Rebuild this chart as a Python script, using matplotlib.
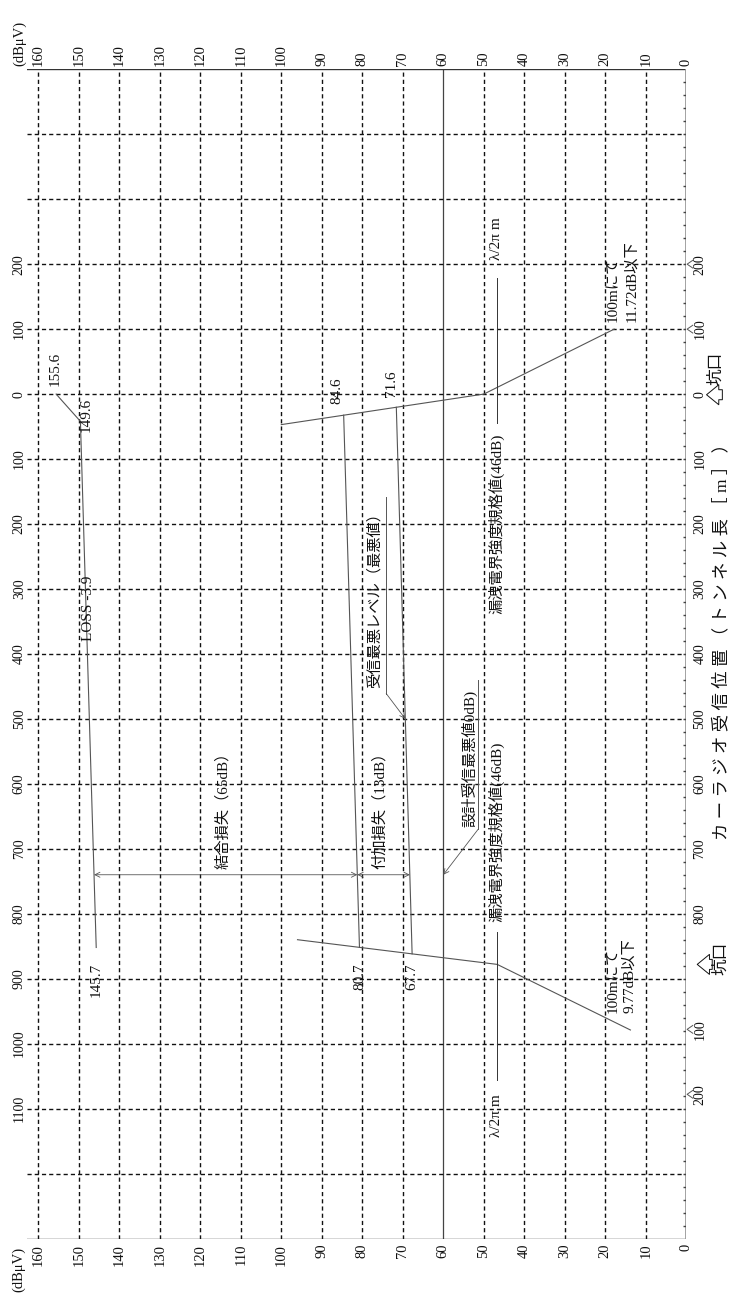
import numpy as np
import matplotlib
matplotlib.use('Agg')
import matplotlib.pyplot as plt

plt.rcParams['font.family'] = ['Liberation Serif', 'Noto Sans CJK JP', 'DejaVu Sans']

# ---------------- data ----------------
db_ticks = [160, 150, 140, 130, 120, 110, 100, 90, 80, 70, 60, 50, 40, 30, 20, 10, 0]
grid_pos = list(range(-400, 1300, 100))           # horizontal grid lines (m)
left_label_pos = [-200, -100, 0, 100, 200, 300, 400, 500, 600, 700, 800, 900, 1000, 1100]
left_label_txt = ['200', '100', '0', '100', '200', '300', '400', '500', '600', '700',
                  '800', '900', '1000', '1100']
right_label_pos = [-200, -100, 0, 100, 200, 300, 400, 500, 600, 700, 800, 978, 1078]
right_label_txt = ['200', '100', '0', '100', '200', '300', '400', '500', '600', '700',
                   '800', '100', '200']
entrance_m = 0
exit_m = 878
design_min_db = 60

upper_leak_db = [100, 50, 17.8]
upper_leak_m = [47, 0, -100]
lower_leak_db = [96.0, 46.7, 13.8]
lower_leak_m = [840, 878, 979]

lineA_db = [84.6, 80.7]
lineA_m = [32.5, 851.8]
lineB_db = [71.6, 67.7]
lineB_m = [20.3, 861.8]
lineC_db = [155.6, 149.6, 145.7]
lineC_m = [0, 42, 852]

dim_m = 740
worst_point_m = 500

# ---------------- figure ----------------
W, H = 735, 1308
fig = plt.figure(figsize=(W / 100, H / 100), dpi=100)
fig.patch.set_facecolor('white')
left_px, right_px, top_px, bot_px = 26.5, 686.3, 69.3, 1238.5
ax = fig.add_axes([left_px / W, 1 - bot_px / H, (right_px - left_px) / W, (bot_px - top_px) / H])
px_per_db = (right_px - 38.3) / 160.0
ax.set_xlim((right_px - left_px) / px_per_db, 0)
ax.set_ylim(1300, -500)
ax.axis('off')

ink = '#111111'
dline = '#555555'
TXT = 11
TICK = 10.5
R = 90

# grid
for d in db_ticks:
    if d == 0:
        continue
    if d == design_min_db:
        ax.axvline(d, color='#444444', lw=0.9)
    else:
        ln = ax.axvline(d, color=ink, lw=1.0)
        ln.set_dashes((3, 2.2))
for p in grid_pos:
    ln = ax.axhline(p, color=ink, lw=1.0)
    ln.set_dashes((3, 2.2))

# frame
ax.axhline(-500, color='#333333', lw=1.0)
ax.axhline(1300, color='#333333', lw=1.0)
ax.axvline(0, color='#999999', lw=2.0)
minor = np.arange(-480, 1300, 20)
ax.hlines(minor, 0, 0.8, color='#444444', lw=1.0)

# tick labels (dB)
for d in db_ticks:
    ax.text(d, -505, str(d), rotation=R, ha='center', va='bottom', fontsize=TICK, color=ink, clip_on=False)
    ax.text(d, 1308, str(d), rotation=R, ha='center', va='top', fontsize=TICK, color=ink, clip_on=False)
ax.text(164.5, -505, '(dBμV)', rotation=R, ha='center', va='bottom', fontsize=TICK, color=ink, clip_on=False)
ax.text(164.8, 1313, '(dBμV)', rotation=R, ha='center', va='top', fontsize=TICK, color=ink, clip_on=False)

# position labels
for p, t in zip(left_label_pos, left_label_txt):
    ax.text(164.7, p, t, rotation=R, ha='center', va='center', fontsize=10, color=ink, clip_on=False)
for p, t in zip(right_label_pos, right_label_txt):
    ax.text(-3.4, p, t, rotation=R, ha='center', va='center', fontsize=10, color=ink, clip_on=False)
for p in [entrance_m - 100, entrance_m - 200, exit_m + 100, exit_m + 200]:
    ax.plot([-1.6, -0.2, -1.6], [p - 6, p, p + 6], color='#555555', lw=0.7, clip_on=False)

ax.text(-8.7, 375, 'カ ー ラ ジ オ 受 信 位 置 （ ト ン ネ ル 長 ［ m ］ ）', rotation=R,
        ha='center', va='center', fontsize=12.5, color=ink, clip_on=False)

# portal markers (outline arrows pointing toward the chart)
portal_arrow = dict(arrowstyle='simple,head_length=0.55,head_width=0.9,tail_width=0.45',
                    fc='white', ec=ink, lw=0.7, shrinkA=0, shrinkB=0, mutation_scale=16)
ax.annotate('', xy=(-5.0, entrance_m + 1), xytext=(-8.9, entrance_m + 1), arrowprops=portal_arrow,
            annotation_clip=False)
ax.text(-7.4, -14, '坑口', rotation=R, ha='center', va='bottom', fontsize=12, color=ink, clip_on=False)
ax.annotate('', xy=(-2.7, exit_m), xytext=(-6.4, exit_m), arrowprops=portal_arrow,
            annotation_clip=False)
ax.text(-8.6, exit_m - 10, '坑口', rotation=R, ha='center', va='center', fontsize=12, color=ink, clip_on=False)

# data lines
ax.plot(upper_leak_db, upper_leak_m, color=dline, lw=0.8)
ax.plot(lower_leak_db, lower_leak_m, color=dline, lw=0.8)
ax.plot(lineA_db, lineA_m, color=dline, lw=0.8)
ax.plot(lineB_db, lineB_m, color=dline, lw=0.8)
ax.plot(lineC_db, lineC_m, color=dline, lw=0.8)

# value labels
ax.text(155.9, -12, f'{lineC_db[0]}', rotation=R, ha='center', va='bottom', fontsize=TXT, color=ink)
ax.text(148.2, 58, f'{lineC_db[1]}', rotation=R, ha='center', va='bottom', fontsize=TXT, color=ink)
ax.text(86.2, 15, f'{lineA_db[0]}', rotation=R, ha='center', va='bottom', fontsize=TXT, color=ink)
ax.text(72.7, 4.5, f'{lineB_db[0]}', rotation=R, ha='center', va='bottom', fontsize=TXT, color=ink)
for dd, mm in [(lineC_db[-1], lineC_m[-1]), (lineA_db[-1], lineA_m[-1]), (lineB_db[-1], lineB_m[-1])]:
    ax.text(dd, 876, f'{dd}', rotation=R, ha='center', va='top', fontsize=TXT, color=ink)
ax.text(147.7, 330, 'LOSS -3.9', rotation=R, ha='center', va='center', fontsize=TXT, color=ink)

# dimension arrows
xC = np.interp(dim_m, lineC_m, lineC_db)
xA = np.interp(dim_m, lineA_m, lineA_db)
xB = np.interp(dim_m, lineB_m, lineB_db)
arw = dict(arrowstyle='<->', lw=0.6, color=dline, shrinkA=0, shrinkB=0, mutation_scale=9)
ax.annotate('', xy=(xA, dim_m), xytext=(xC, dim_m), arrowprops=arw)
ax.annotate('', xy=(xB, dim_m), xytext=(xA, dim_m), arrowprops=arw)
ax.text(114.4, 635, '結合損失（65dB）', rotation=R, ha='center', va='center', fontsize=TXT, color=ink)
ax.text(75.6, 635, '付加損失（13dB）', rotation=R, ha='center', va='center', fontsize=TXT, color=ink)

# worst receive level leader
ax.text(76.9, 312, '受信最悪レベル（最悪値）', rotation=R, ha='center', va='center', fontsize=TXT, color=ink)
ax.plot([74.1, 74.1], [159, 461], color=dline, lw=0.7)
xw = np.interp(worst_point_m, lineB_m, lineB_db)
ax.annotate('', xy=(xw, worst_point_m), xytext=(74.1, 461),
            arrowprops=dict(arrowstyle='->', lw=0.6, color=dline, shrinkA=0, shrinkB=0, mutation_scale=9))

# design minimum leader
ax.text(53.6, 561, '設計受信最悪値0dB)', rotation=R, ha='center', va='center', fontsize=TXT, color=ink)
ax.plot([51.4, 51.4], [440, 670], color=dline, lw=0.7)
ax.annotate('', xy=(design_min_db, dim_m), xytext=(51.4, 670),
            arrowprops=dict(arrowstyle='->', lw=0.6, color=dline, shrinkA=0, shrinkB=0, mutation_scale=9))

# leaky field texts
ax.text(46.8, 200, '漏洩電界強度規格値(46dB)', rotation=R, ha='center', va='center', fontsize=TXT, color=ink)
ax.plot([46.8, 46.8], [-179, 44], color='#333333', lw=0.7)
ax.text(46.8, -240, 'λ/2π m', rotation=R, ha='center', va='center', fontsize=TXT, color=ink)
ax.text(46.8, 674, '漏洩電界強度規格値(46dB)', rotation=R, ha='center', va='center', fontsize=TXT, color=ink)
ax.plot([46.8, 46.8], [828, 1056], color='#333333', lw=0.7)
ax.text(46.8, 1111, 'λ/2π m', rotation=R, ha='center', va='center', fontsize=TXT, color=ink)

ax.text(18.0, -111, '100mにて', rotation=R, ha='center', va='bottom', fontsize=TXT, color=ink)
ax.text(13.6, -111, '11.72dB以下', rotation=R, ha='center', va='bottom', fontsize=TXT, color=ink)
ax.text(18.0, 953, '100mにて', rotation=R, ha='center', va='bottom', fontsize=TXT, color=ink)
ax.text(13.9, 953, '9.77dB以下', rotation=R, ha='center', va='bottom', fontsize=TXT, color=ink)

fig.savefig('out.png', dpi=100, facecolor='white')
